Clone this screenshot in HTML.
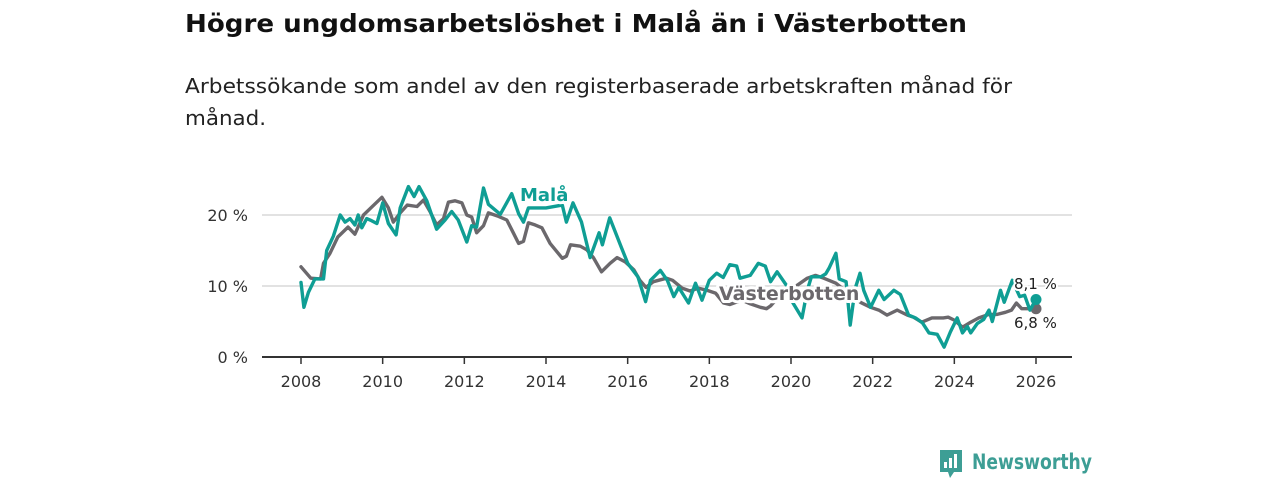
<!DOCTYPE html>
<html><head><meta charset="utf-8"><style>
html,body{margin:0;padding:0;background:#fff;width:1280px;height:480px;overflow:hidden}
svg{display:block;font-family:"DejaVu Sans","Liberation Sans",sans-serif}
</style></head><body>
<svg id="chart" width="1280" height="480" viewBox="0 0 1280 480">
<text x="185" y="32" font-size="25" font-weight="bold" fill="#111" textLength="782" lengthAdjust="spacingAndGlyphs">Högre ungdomsarbetslöshet i Malå än i Västerbotten</text>
<text x="185" y="93" font-size="20" fill="#222" textLength="827" lengthAdjust="spacingAndGlyphs">Arbetssökande som andel av den registerbaserade arbetskraften månad för</text>
<text x="185" y="125" font-size="20" fill="#222" textLength="81" lengthAdjust="spacingAndGlyphs">månad.</text>
<g id="grid"></g>
<g id="yaxis"></g>
<g id="xaxis"></g>
<g id="series"></g>
<g id="labels"></g>
<g>
<path d="M940 450 h22 v22 h-8 l-4 6 l-2 -6 h-8 z" fill="#3d9e95"/>
<rect x="944" y="462" width="3" height="6" fill="#fff"/><rect x="949" y="458" width="3" height="10" fill="#fff"/><rect x="954" y="454" width="3" height="14" fill="#fff"/>
<text x="972" y="469" font-size="21" font-weight="bold" fill="#3d9e95" textLength="120" lengthAdjust="spacingAndGlyphs">Newsworthy</text>
</g>
</svg>
<script>
const yTicks=[0,10,20];
const xTicks=[2008,2010,2012,2014,2016,2018,2020,2022,2024,2026];
const malaDates=[2008.0,2008.07,2008.18,2008.34,2008.55,2008.63,2008.79,2008.96,2009.08,2009.2,2009.32,2009.4,2009.49,2009.61,2009.73,2009.86,2010.0,2010.14,2010.33,2010.43,2010.63,2010.77,2010.89,2011.08,2011.32,2011.53,2011.69,2011.85,2012.06,2012.18,2012.3,2012.47,2012.59,2012.88,2013.16,2013.33,2013.45,2013.57,2014.0,2014.4,2014.5,2014.66,2014.87,2015.08,2015.3,2015.38,2015.56,2015.85,2016.0,2016.25,2016.44,2016.56,2016.8,2016.97,2017.13,2017.25,2017.49,2017.66,2017.82,2018.0,2018.18,2018.34,2018.5,2018.67,2018.75,2019.0,2019.2,2019.37,2019.5,2019.66,2019.9,2020.05,2020.27,2020.4,2020.5,2020.73,2020.85,2020.93,2021.1,2021.18,2021.35,2021.45,2021.57,2021.69,2021.78,2021.95,2022.15,2022.28,2022.52,2022.68,2022.88,2023.05,2023.22,2023.38,2023.58,2023.75,2023.9,2024.07,2024.2,2024.32,2024.4,2024.56,2024.72,2024.85,2024.93,2025.13,2025.22,2025.42,2025.6,2025.72,2025.85,2026.0];
const malaValues=[10.5,7,9.1,11,11,15,17,20,19,19.5,18.6,20,18.2,19.5,19.2,18.8,21.7,18.8,17.2,21,24,22.6,24,22,18,19.3,20.5,19.3,16.2,18.5,18.3,23.8,21.5,20.1,23,20.2,19,21,21,21.4,19,21.7,19,14,17.5,15.8,19.6,15.4,13.2,11.3,7.8,10.8,12.2,10.8,8.5,9.8,7.6,10.4,8,10.8,11.8,11.2,13,12.8,11.1,11.5,13.2,12.8,10.6,12,10,7.6,5.5,9.4,11.3,11.3,11.7,12.5,14.6,11,10.6,4.5,9.6,11.8,9.4,7,9.4,8.1,9.4,8.8,5.9,5.5,4.8,3.4,3.2,1.4,3.5,5.5,3.4,4.3,3.4,4.7,5.3,6.6,5,9.4,7.7,10.8,8.5,8.7,6.6,8.1];
const vbDates=[2008.0,2008.24,2008.48,2008.55,2008.71,2008.9,2009.15,2009.32,2009.53,2009.73,2009.98,2010.14,2010.26,2010.43,2010.6,2010.84,2011.0,2011.16,2011.32,2011.49,2011.61,2011.77,2011.94,2012.06,2012.18,2012.3,2012.47,2012.59,2012.84,2013.04,2013.2,2013.33,2013.45,2013.57,2013.73,2013.9,2014.1,2014.4,2014.5,2014.6,2014.84,2015.0,2015.16,2015.36,2015.57,2015.74,2015.94,2016.15,2016.3,2016.45,2016.63,2016.95,2017.1,2017.33,2017.53,2017.73,2017.94,2018.15,2018.35,2018.5,2018.8,2019.0,2019.25,2019.4,2019.5,2019.7,2020.0,2020.4,2020.6,2020.8,2021.1,2021.4,2021.7,2021.95,2022.15,2022.35,2022.6,2022.85,2023.0,2023.2,2023.45,2023.73,2023.85,2024.0,2024.2,2024.4,2024.6,2024.85,2025.05,2025.25,2025.4,2025.52,2025.65,2025.8,2026.0];
const vbValues=[12.7,11.1,11,13.2,14.6,16.9,18.3,17.3,20,21.1,22.5,21,19,20.3,21.4,21.2,22.1,20.5,18.6,19.5,21.8,22,21.7,20,19.7,17.5,18.5,20.3,19.8,19.3,17.5,16,16.3,18.9,18.6,18.2,16,13.9,14.2,15.8,15.6,15.1,14,12,13.2,14,13.4,12.3,10.8,9.8,10.6,11.1,10.8,9.7,9.3,9.7,9.4,9,7.6,7.4,8,7.5,7,6.8,7.2,8.5,9.5,11.1,11.5,11.1,10.4,9,7.7,7,6.6,5.9,6.6,5.9,5.6,4.9,5.5,5.5,5.6,5.2,4.2,4.9,5.5,6,6,6.3,6.6,7.6,6.8,6.8,6.8];

const NS='http://www.w3.org/2000/svg';
const X=y=>301+(y-2008)*(1036-301)/18;
const Y=v=>357-v*7.1;
function mk(tag,attrs,parent){const e=document.createElementNS(NS,tag);for(const k in attrs)e.setAttribute(k,attrs[k]);parent.appendChild(e);return e;}
const grid=document.getElementById('grid'),ya=document.getElementById('yaxis'),xa=document.getElementById('xaxis'),ser=document.getElementById('series'),lab=document.getElementById('labels');
yTicks.forEach(t=>{
 if(t>0){const l=mk('line',{x1:262,x2:1072,y1:Y(t),y2:Y(t),stroke:'#d8d8d8','stroke-width':1.5},grid);
 
 }
 const tx=mk('text',{x:248,y:Y(t)+6,'font-size':16,fill:'#333','text-anchor':'end'},ya);
 tx.textContent=t+' %';
 
 
});
const ax=mk('line',{x1:262,x2:1072,y1:357,y2:357,stroke:'#333','stroke-width':2},xa);


xTicks.forEach(t=>{
 const k=mk('line',{x1:X(t),x2:X(t),y1:357,y2:364,stroke:'#333','stroke-width':1.5},xa);
 
 
 const tx=mk('text',{x:X(t),y:387,'font-size':16,fill:'#333','text-anchor':'middle'},xa);
 tx.textContent=t;
 
 
});
function line(dates,vals,color,name){
 const d=dates.map((t,i)=>(i?'L':'M')+X(t).toFixed(1)+' '+Y(vals[i]).toFixed(1)).join(' ');
 const p=mk('path',{d:d,fill:'none',stroke:color,'stroke-width':3.4,'stroke-linejoin':'round','stroke-linecap':'round'},ser);
 
 
 const n=dates.length-1;
 const c=mk('circle',{cx:X(dates[n]),cy:Y(vals[n]),r:5.5,fill:color},ser);
 
 
}
line(vbDates,vbValues,'#6b686c','vasterbotten-line');
line(malaDates,malaValues,'#0f9e94','mala-line');
function label(txt,x,y,size,color,bold,name,anchor){
 const t=mk('text',{x:x,y:y,'font-size':size,fill:color,'font-weight':bold?'bold':'normal',stroke:'#fff','stroke-width':bold?6:4,'paint-order':'stroke','stroke-linejoin':'round','text-anchor':anchor||'start'},lab);
 t.textContent=txt;
 
 
}
label('Malå',520,201,18,'#0f9e94',true,'mala-label');
label('Västerbotten',719,300,19,'#6b686c',true,'vasterbotten-label');
label('8,1 %',1014,289,15,'#222',false,'mala-last-value');
label('6,8 %',1014,328,15,'#222',false,'vasterbotten-last-value');
</script>
</body></html>
